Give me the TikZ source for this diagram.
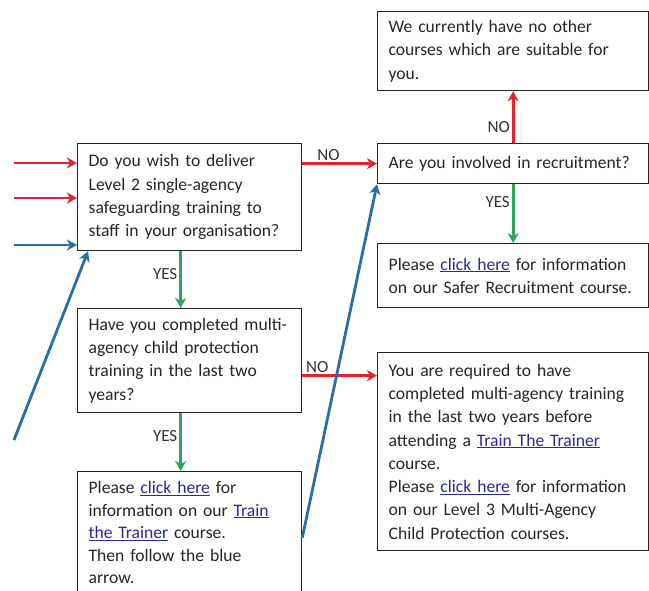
\documentclass[tikz,border=0pt]{standalone}
\usepackage{fontspec}
\setmainfont{Carlito}
\usetikzlibrary{arrows.meta,positioning}
\definecolor{nored}{HTML}{E0232D}
\definecolor{yesgreen}{HTML}{2FA65A}
\definecolor{flowblue}{HTML}{2B6EA6}
\definecolor{linkblue}{HTML}{2A2A9A}
\newcommand{\linktext}[1]{\textcolor{linkblue}{\underline{#1}}}
\tikzset{
  textbox/.style={draw=black!85, line width=1.3pt, anchor=north west, align=left,
    inner xsep=11pt, inner ysep=0pt, text=black!85,
    font=\fontsize{17.6}{23.3}\selectfont},
  answer/.style={font=\fontsize{17}{20}\selectfont, text=black!80, inner sep=2pt},
  redarrow/.style={draw=nored, line width=2.8pt, -{Stealth[length=10pt,width=11pt,inset=3pt]}},
  greenarrow/.style={draw=yesgreen, line width=2.8pt, -{Stealth[length=10pt,width=11pt,inset=3pt]}},
  bluearrow/.style={draw=flowblue, line width=2.8pt, -{Stealth[length=10pt,width=11pt,inset=3pt]}}
}
\begin{document}
\begin{tikzpicture}[x=1pt,y=-1pt]
\clip (0,0) rectangle (649,591);
\fill[white] (0,0) rectangle (649,591);

% Boxes
\node[textbox, text width=202pt, minimum height=107pt] (wish) at (77,143)
  {Do you wish to deliver\\Level 2 single-agency\\safeguarding training to\\staff in your organisation?};
\node[textbox, text width=249pt, minimum height=40pt] (recruit) at (377,143)
  {Are you involved in recruitment?};
\node[textbox, text width=249pt, minimum height=79pt] (nocourse) at (377,11)
  {We currently have no other\\courses which are suitable for\\you.};
\node[textbox, text width=249pt, minimum height=64pt] (safer) at (377,243)
  {Please \linktext{click here} for information\\on our Safer Recruitment course.};
\node[textbox, text width=202pt, minimum height=104pt] (multi) at (77,308)
  {Have you completed multi-\\agency child protection\\training in the last two\\years?};
\node[textbox, text width=249pt, minimum height=198pt] (required) at (377,352)
  {You are required to have\\completed multi-agency training\\in the last two years before\\attending a \linktext{Train The Trainer}\\course.\\Please \linktext{click here} for information\\on our Level 3 Multi-Agency\\Child Protection courses.};
\node[textbox, text width=202pt, minimum height=122pt,
  font=\fontsize{17.6}{22.6}\selectfont] (trainer) at (77,471)
  {Please \linktext{click here} for\\information on our \linktext{Train}\\\linktext{the Trainer} course.\\Then follow the blue\\arrow.};

% incoming arrows
\coordinate (inA) at (14,163);
\coordinate (inB) at (14,198);
\coordinate (inC) at (14,245);
\coordinate (inD) at (14,440);
\draw[redarrow] (inA) -- (inA -| wish.west);
\draw[redarrow] (inB) -- (inB -| wish.west);
\draw[bluearrow] (inC) -- (inC -| wish.west);
\draw[bluearrow] (inD) -- ([xshift=11pt]wish.south west);

% answers
\draw[redarrow] (wish.east |- recruit.west) -- node[answer, above, pos=0.35] {NO} (recruit.west);
\draw[redarrow] (recruit.north) -- node[answer, left, pos=0.3] {NO} (nocourse.south);
\draw[greenarrow] (recruit.south) -- node[answer, left, pos=0.3] {YES} (safer.north);
\draw[greenarrow] ([xshift=-9pt]wish.south) -- node[answer, left, pos=0.4] {YES} ([xshift=-9pt]multi.north);
\draw[redarrow] ([yshift=-15pt]multi.east) -- node[answer, above, pos=0.2] {NO} ([yshift=-15pt]multi.east -| required.west);
\draw[greenarrow] ([xshift=-9pt]multi.south) -- node[answer, left, pos=0.4] {YES} ([xshift=-9pt]trainer.north);
\draw[bluearrow] ([yshift=-5pt]trainer.east) -- (recruit.south west);

\end{tikzpicture}
\end{document}
